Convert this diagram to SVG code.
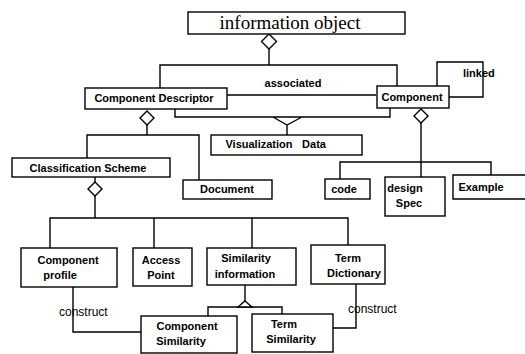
<svg xmlns="http://www.w3.org/2000/svg" width="525" height="354" viewBox="0 0 525 354">
<style>
  .box { fill: #fff; stroke: #000; stroke-width: 1.4; }
  .ln { fill: none; stroke: #000; stroke-width: 1.4; }
  .dm { fill: #fff; stroke: #000; stroke-width: 1.4; }
  .t { font-family: "Liberation Sans", Arial, sans-serif; font-size: 11px; font-weight: bold; fill: #000; text-anchor: middle; }
  .lbl { font-family: "Liberation Sans", Arial, sans-serif; font-size: 12px; fill: #000; }
  .ti { font-family: "Liberation Serif", "Times New Roman", serif; font-size: 19px; fill: #000; text-anchor: middle; }
</style>
<rect width="525" height="354" fill="#fff"/>
<g id="connectors">
  <!-- info object aggregation -->
  <path class="ln" d="M269,49 V65 M160,88 V65 H397 V86"/>
  <path class="dm" d="M269,34 L276.5,41.5 L269,49 L261.5,41.5 Z"/>
  <!-- associated -->
  <path class="ln" d="M227,95 H376"/>
  <!-- visualization -->
  <path class="ln" d="M175,109 V117 H390 V108 M273,117 L287,125 L302,117 M287,125 V135"/>
  <!-- linked loop -->
  <path class="ln" d="M437,86 V62 H483 V97 H449"/>
  <!-- component descriptor aggregation -->
  <path class="ln" d="M147,125 V135 M87,158 V135 H199 V180"/>
  <path class="dm" d="M147,111 L154,118 L147,125 L140,118 Z"/>
  <!-- component aggregation -->
  <path class="ln" d="M421,123 V177 M340,179 V162 H491 V175"/>
  <path class="dm" d="M421,109 L428,116 L421,123 L414,116 Z"/>
  <!-- classification scheme aggregation -->
  <path class="ln" d="M95,177 V182 M95,196 V218 M50,248 V218 H348 V245 M154,218 V248 M252,218 V248"/>
  <path class="dm" d="M95,182 L102,189 L95,196 L88,189 Z"/>
  <!-- similarity generalization -->
  <path class="ln" d="M245,285 V301 M208,316 V307 H282 V314"/>
  <path class="dm" d="M245,301 L252,307 L238,307 Z"/>
  <!-- construct -->
  <path class="ln" d="M73,287 V332 H141"/>
  <path class="ln" d="M356,284 V328 H333"/>
  <text class="t" x="293" y="87">associated</text>
  <text class="t" x="463" y="77" style="text-anchor:start">linked</text>
  <text class="lbl" x="59" y="316">construct</text>
  <text class="lbl" x="348" y="313">construct</text>
</g>
<g id="information-object">
  <rect class="box" x="188" y="12" width="217" height="22"/>
  <text class="ti" x="290" y="29">information object</text>
</g>
<g id="component-descriptor">
  <rect class="box" x="85" y="88" width="142" height="21"/>
  <text class="t" x="154" y="102">Component Descriptor</text>
</g>
<g id="component">
  <rect class="box" x="377" y="86" width="72" height="22"/>
  <text class="t" x="412" y="101">Component</text>
</g>
<g id="visualization-data">
  <rect class="box" x="211" y="135" width="151" height="20"/>
  <text class="t" x="259" y="148">Visualization</text>
  <text class="t" x="314" y="148">Data</text>
</g>
<g id="classification-scheme">
  <rect class="box" x="12" y="158" width="158" height="19"/>
  <text class="t" x="88" y="172">Classification Scheme</text>
</g>
<g id="document">
  <rect class="box" x="183" y="180" width="89" height="19"/>
  <text class="t" x="227" y="193">Document</text>
</g>
<g id="code">
  <rect class="box" x="325" y="179" width="45" height="20"/>
  <text class="t" x="344" y="193">code</text>
</g>
<g id="design-spec">
  <rect class="box" x="385" y="177" width="60" height="39"/>
  <text class="t" x="405" y="192">design</text>
  <text class="t" x="409" y="207">Spec</text>
</g>
<g id="example">
  <path class="ln" d="M530,175 H453 V199 H530"/>
  <text class="t" x="481" y="191">Example</text>
</g>
<g id="component-profile">
  <rect class="box" x="21" y="248" width="96" height="39"/>
  <text class="t" x="68" y="264">Component</text>
  <text class="t" x="60" y="279">profile</text>
</g>
<g id="access-point">
  <rect class="box" x="133" y="248" width="59" height="38"/>
  <text class="t" x="161" y="264">Access</text>
  <text class="t" x="161" y="279">Point</text>
</g>
<g id="similarity-information">
  <rect class="box" x="207" y="248" width="89" height="37"/>
  <text class="t" x="246" y="262">Similarity</text>
  <text class="t" x="245" y="278">information</text>
</g>
<g id="term-dictionary">
  <rect class="box" x="311" y="245" width="74" height="39"/>
  <text class="t" x="348" y="262">Term</text>
  <text class="t" x="354" y="277">Dictionary</text>
</g>
<g id="component-similarity">
  <rect class="box" x="141" y="316" width="96" height="37"/>
  <text class="t" x="187" y="330">Component</text>
  <text class="t" x="181" y="345">Similarity</text>
</g>
<g id="term-similarity">
  <rect class="box" x="252" y="314" width="81" height="38"/>
  <text class="t" x="284" y="328">Term</text>
  <text class="t" x="291" y="343">Similarity</text>
</g>
</svg>
